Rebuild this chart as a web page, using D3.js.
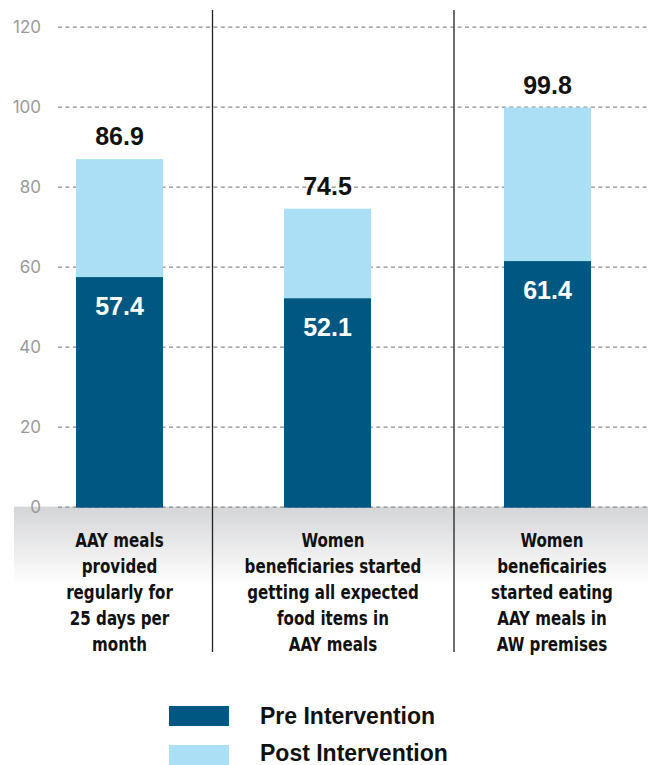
<!DOCTYPE html>
<html>
<head>
<meta charset="utf-8">
<script src="https://cdn.jsdelivr.net/npm/d3@7"></script>
<style>
  html, body { margin: 0; padding: 0; background: #fff; }
  svg { display: block; }
</style>
</head>
<body>
<svg id="chart" width="648" height="765"></svg>
<script>
// Data
const categories = [
  ["AAY meals", "provided", "regularly for", "25 days per", "month"],
  ["Women", "beneficiaries started", "getting all expected", "food items in", "AAY meals"],
  ["Women", "beneficairies", "started eating", "AAY meals in", "AW premises"]
];
const preValues = [57.4, 52.1, 61.4];
const postValues = [86.9, 74.5, 99.8];
const yTicks = [0, 20, 40, 60, 80, 100, 120];
const seriesNames = ["Pre Intervention", "Post Intervention"];
const seriesColors = ["#005882", "#aadff5"];

const svg = d3.select("#chart");

const y = d3.scaleLinear().domain([0, 120]).range([506.7, 26.7]);
// Three columns separated by vertical rules
const colEdges = [0, 212.5, 454, 648];
const barCenters = [119.5, 327.5, 547.5];
const labelCenters = [119.5, 333, 552];
const barW = 87;

// Gray band behind the category labels
const defs = svg.append("defs");
const grad = defs.append("linearGradient").attr("id", "band").attr("x1", 0).attr("y1", 0).attr("x2", 0).attr("y2", 1);
grad.append("stop").attr("offset", "0%").attr("stop-color", "#d4d5d7");
grad.append("stop").attr("offset", "100%").attr("stop-color", "#ffffff");
svg.append("rect").attr("x", 14).attr("y", y(0)).attr("width", 634).attr("height", 78).attr("fill", "url(#band)");

// Gridlines and y-axis labels
const yAxis = d3.axisLeft(y).tickValues(yTicks).tickSize(-(648 - 58)).tickPadding(17);
const ga = svg.append("g").attr("transform", "translate(58,0)").call(yAxis);
ga.select(".domain").remove();
ga.selectAll(".tick line").attr("stroke", "#8c8c8c").attr("stroke-width", 1.3).attr("stroke-dasharray", "4,3.4");
ga.selectAll(".tick text").attr("fill", "#9a9a9a").attr("font-family", "Inter, 'Open Sans', sans-serif")
  .attr("font-size", 17).attr("x", -17).attr("text-anchor", "end");

// Vertical separators
svg.selectAll(".sep").data(colEdges.slice(1, 3)).enter().append("line")
  .attr("x1", d => d).attr("x2", d => d).attr("y1", 10).attr("y2", 652)
  .attr("stroke", "#222").attr("stroke-width", 1.3);

// Post intervention bars (behind)
svg.selectAll(".post").data(postValues).enter().append("rect")
  .attr("x", (d, i) => barCenters[i] - barW / 2).attr("width", barW)
  .attr("y", d => y(d)).attr("height", d => y(0) - y(d)).attr("fill", seriesColors[1]);

// Pre intervention bars (front)
svg.selectAll(".pre").data(preValues).enter().append("rect")
  .attr("x", (d, i) => barCenters[i] - barW / 2).attr("width", barW)
  .attr("y", d => y(d)).attr("height", d => y(0) - y(d) + 1).attr("fill", seriesColors[0]);

// Value labels
const valFont = "'Liberation Sans', Arial, sans-serif";
svg.selectAll(".postLbl").data(postValues).enter().append("text")
  .attr("x", (d, i) => barCenters[i]).attr("y", d => y(d) - 14)
  .attr("text-anchor", "middle").attr("font-family", valFont).attr("font-weight", "bold")
  .attr("font-size", 25).attr("fill", "#111").text(d => d.toFixed(1));
svg.selectAll(".preLbl").data(preValues).enter().append("text")
  .attr("x", (d, i) => barCenters[i]).attr("y", d => y(d) + 38)
  .attr("text-anchor", "middle").attr("font-family", valFont).attr("font-weight", "bold")
  .attr("font-size", 25).attr("fill", "#fff").text(d => d.toFixed(1));

// Category labels, horizontally compressed for a condensed look
const catFont = "'DejaVu Sans Condensed', 'DejaVu Sans', sans-serif";
categories.forEach((lines, i) => {
  const t = svg.append("text").attr("text-anchor", "middle")
    .attr("transform", `translate(${labelCenters[i]},0) scale(0.84,1)`)
    .attr("font-family", catFont).attr("font-weight", "bold")
    .attr("font-size", 20).attr("fill", "#111");
  lines.forEach((ln, j) => {
    t.append("tspan").attr("x", 0).attr("y", 547 + j * 26).text(ln);
  });
});

// Legend
const legend = svg.append("g");
seriesNames.forEach((name, i) => {
  legend.append("rect").attr("x", 169).attr("y", 706 + i * 39).attr("width", 60).attr("height", 20).attr("fill", seriesColors[i]);
  legend.append("text").attr("x", 260).attr("y", 724 + i * 37)
    .attr("font-family", valFont).attr("font-weight", "bold").attr("font-size", 23).attr("fill", "#111").text(name);
});
</script>
</body>
</html>
